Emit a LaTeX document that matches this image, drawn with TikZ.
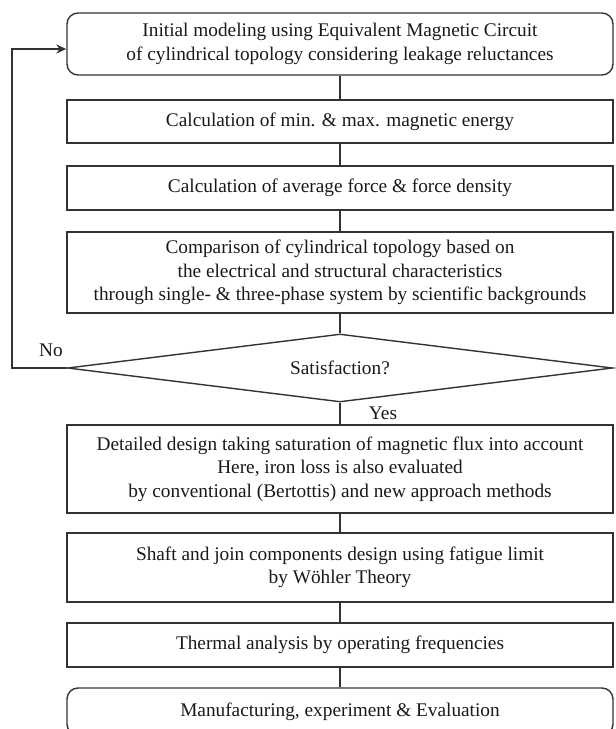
\documentclass[tikz,border=0pt]{standalone}
\usepackage{fontspec}
\setmainfont{Liberation Serif}
\usepackage{tikz}
\usetikzlibrary{arrows.meta}
\usetikzlibrary{shapes.geometric}
\tikzset{blk/.style={draw=black!80, line width=1.4pt, minimum width=546pt, align=center, inner sep=0pt, text=black!90, font=\fontsize{19.3}{23.5}\selectfont}}
\tikzset{rblk/.style={blk, rounded corners=11pt}}
\tikzset{dec/.style={blk, diamond, aspect=8, minimum height=68pt, minimum width=545pt}}
\tikzset{l/.style={text=black!90, font=\fontsize{19.3}{19.3}\selectfont}}

\begin{document}
\begin{tikzpicture}[x=1pt,y=-1pt, every edge/.append style={line width=1.4pt, draw=black!80}]
  \path[use as bounding box, clip] (0,0) rectangle (616,729);
  \node[rblk, minimum height=62pt] (init) at (340,44)
    {Initial modeling using Equivalent Magnetic Circuit\\of cylindrical topology considering leakage reluctances};
  \node[blk, minimum height=43pt] (energy) at (340,121.5)
    {Calculation of min. \& max. magnetic energy}
    edge (init);
  \node[blk, minimum height=44pt] (force) at (340,188)
    {Calculation of average force \& force density}
    edge (energy);
  \node[blk, minimum height=81pt] (comp) at (340,272.5)
    {Comparison of cylindrical topology based on\\the electrical and structural characteristics\\through single- \& three-phase system by scientific backgrounds}
    edge (force);
  \node[dec] (sat) at (340,368) {Satisfaction?}
    edge (comp);
  \node[blk, minimum height=88pt] (detail) at (340,469)
    {Detailed design taking saturation of magnetic flux into account\\Here, iron loss is also evaluated\\by conventional (Bertottis) and new approach methods}
    edge (sat);
  \node[blk, minimum height=69pt] (shaft) at (340,567.5)
    {Shaft and join components design using fatigue limit\\by Wöhler Theory}
    edge (detail);
  \node[blk, minimum height=44pt] (therm) at (340,645)
    {Thermal analysis by operating frequencies}
    edge (shaft);
  \node[rblk, minimum height=47pt] (manu) at (340,711.5)
    {Manufacturing, experiment \& Evaluation}
    edge (therm);
  % feedback loop
  \coordinate (back) at (12,368);
  \draw[line width=1.4pt, draw=black!80, -{Stealth[length=10pt,width=9pt]}] (sat.west) -- (back) |- ([yshift=-5pt]init.west);
  \node[l] (no) at (51,350) {No};
  \node[l] (yes) at (383,413) {Yes};
\end{tikzpicture}
\end{document}
